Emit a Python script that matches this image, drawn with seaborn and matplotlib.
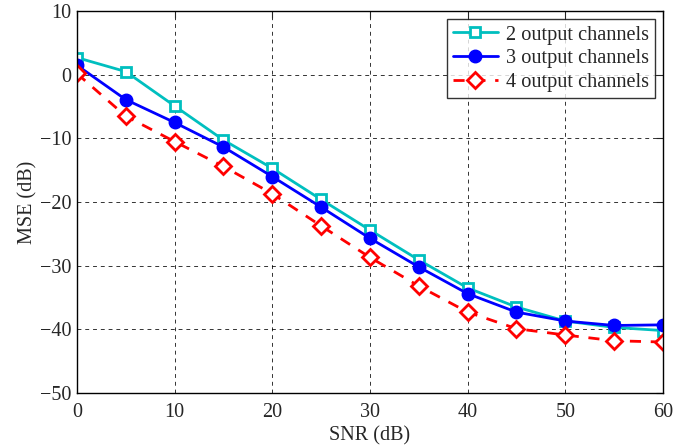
import matplotlib
matplotlib.use("Agg")
import matplotlib.pyplot as plt
import seaborn as sns
import pandas as pd

snr = [0, 5, 10, 15, 20, 25, 30, 35, 40, 45, 50, 55, 60]
mse_2ch = [2.7, 0.5, -4.9, -10.25, -14.7, -19.6, -24.4, -29.1, -33.5, -36.5, -38.7, -39.7, -40.2]
mse_3ch = [1.5, -3.9, -7.5, -11.35, -16.0, -20.8, -25.7, -30.2, -34.4, -37.3, -38.7, -39.4, -39.3]
mse_4ch = [0.2, -6.5, -10.5, -14.4, -18.7, -23.75, -28.7, -33.2, -37.3, -39.9, -40.9, -41.8, -42.0]
labels = ["2 output channels", "3 output channels", "4 output channels"]

sns.set_style("white")
plt.rcParams["font.family"] = ["Liberation Serif", "DejaVu Serif"]
plt.rcParams["mathtext.fontset"] = "stix"

fig = plt.figure(figsize=(6.99, 4.45), dpi=100)
ax = fig.add_axes([0.110, 0.117, 0.8385, 0.858])

styles = [
    dict(color="#00BFBF", marker="s", linestyle="-", markersize=7, markerfacecolor="white", markeredgewidth=2),
    dict(color="#0000FF", marker="o", linestyle="-", markersize=9, markerfacecolor="#0000FF", markeredgewidth=1),
    dict(color="#FF0000", marker="D", linestyle=(0, (4, 3.5)), markersize=8.5, markerfacecolor="white", markeredgewidth=2),
]
for vals, lab, st in zip([mse_2ch, mse_3ch, mse_4ch], labels, styles):
    df = pd.DataFrame({"SNR": snr, "MSE": vals})
    sns.lineplot(data=df, x="SNR", y="MSE", ax=ax, label=lab, linewidth=2,
                 color=st["color"], marker=st["marker"], linestyle=st["linestyle"],
                 markersize=st["markersize"], markerfacecolor=st["markerfacecolor"],
                 markeredgecolor=st["color"], markeredgewidth=st["markeredgewidth"])

ax.set_xlim(0, 60)
ax.set_ylim(-50, 10)
ax.set_xticks(range(0, 61, 10))
ax.set_yticks(range(-50, 11, 10))
ax.set_yticklabels(["\u221250", "\u221240", "\u221230", "\u221220", "\u221210", "0", "10"])
ax.set_xlabel("SNR (dB)", fontsize=14.5, labelpad=3)
ax.set_ylabel("MSE (dB)", fontsize=14.5, labelpad=2)
ax.tick_params(axis="both", labelsize=14.5, direction="in", top=True, right=True, length=5, width=0.8)
ax.tick_params(axis="x", pad=7)
ax.tick_params(axis="y", pad=4)
ax.grid(True, color="black", linestyle=(0, (4, 4)), linewidth=0.7, alpha=0.8)
for sp in ax.spines.values():
    sp.set_visible(True)
    sp.set_color("black")
    sp.set_linewidth(1.0)

leg = ax.legend(loc="upper right", fontsize=14.6, frameon=True, fancybox=False, edgecolor="black",
                handlelength=2.2, borderpad=0.3, labelspacing=0.22, handletextpad=0.4,
                borderaxespad=0.4)
leg.get_frame().set_linewidth(1.0)

fig.savefig("out.png", dpi=100)
